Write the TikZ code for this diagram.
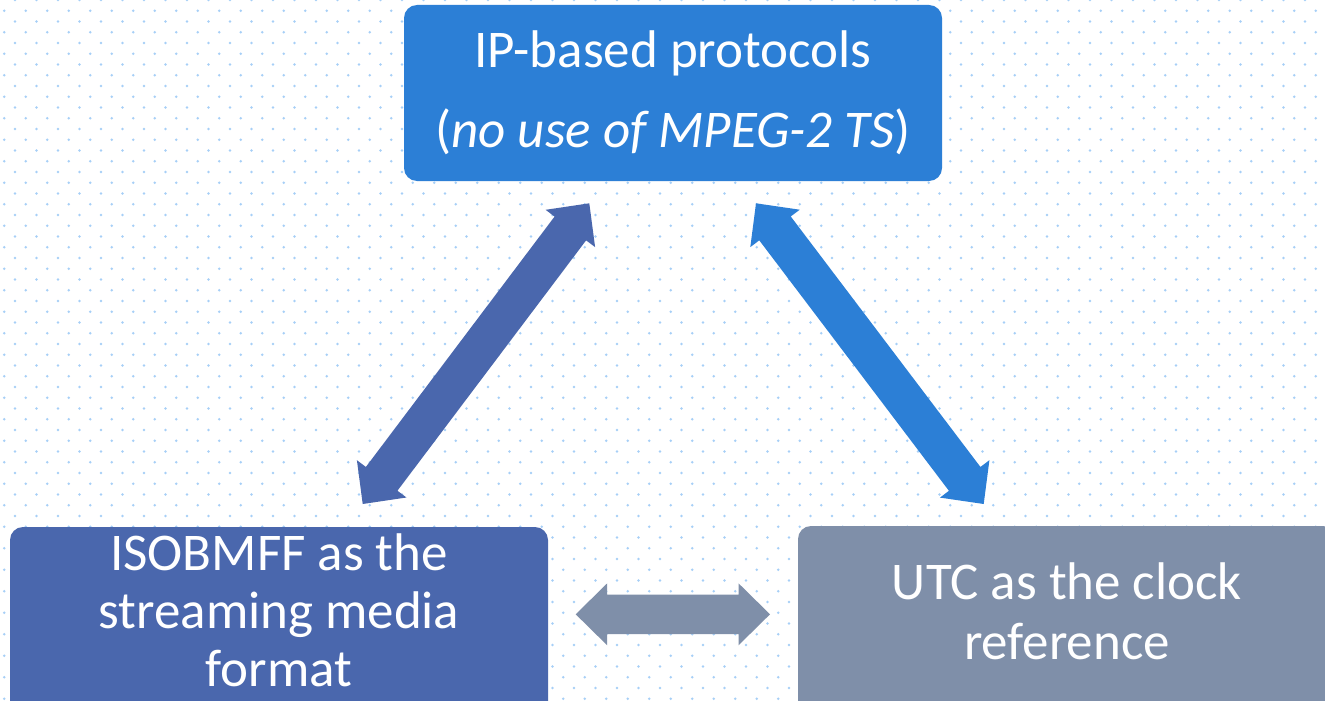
\documentclass[tikz,border=0pt]{standalone}
\usepackage{fontspec}
\setmainfont{Carlito}
\usetikzlibrary{calc}

\definecolor{ipblue}{RGB}{44,127,214}
\definecolor{isoblue}{RGB}{74,103,173}
\definecolor{utcgrey}{RGB}{127,143,169}
\definecolor{dotblue}{RGB}{166,207,247}

% block arrow with a head at both ends: #1 -> #2, filled with #3
\def\arrhead{31.5pt}   % head length
\def\arrwing{31pt}     % half head width
\def\arrshaft{19.75pt} % half shaft width
\newcommand\twoway[3]{%
  \fill[#3] (#1)
    -- ($(#1)!\arrhead!(#2)!\arrwing!90:(#2)$)
    -- ($(#1)!\arrhead!(#2)!\arrshaft!90:(#2)$)
    -- ($(#2)!\arrhead!(#1)!\arrshaft!-90:(#1)$)
    -- ($(#2)!\arrhead!(#1)!\arrwing!-90:(#1)$)
    -- (#2)
    -- ($(#2)!\arrhead!(#1)!\arrwing!90:(#1)$)
    -- ($(#2)!\arrhead!(#1)!\arrshaft!90:(#1)$)
    -- ($(#1)!\arrhead!(#2)!\arrshaft!-90:(#2)$)
    -- ($(#1)!\arrhead!(#2)!\arrwing!-90:(#2)$)
    -- cycle;}

\begin{document}
\begin{tikzpicture}[x=1pt,y=-1pt,
  card/.style={rounded corners=13pt, text=white, align=center,
    inner sep=0pt, minimum width=538pt,
    font=\fontsize{53}{59}\selectfont},
  cardtext/.style={text=white, align=center, inner sep=0pt,
    text height=0pt, text depth=0pt},
  dot/.style={fill=dotblue},
]
\useasboundingbox (0,0) rectangle (1325,701);
\clip (0,0) rectangle (1325,701);
\fill[white] (0,0) rectangle (1325,701);

% staggered dot grid
\foreach \r [evaluate=\r as \xo using {4.3+10.75*(1-mod(\r,2))}] in {0,...,65}{
  \foreach \c in {0,...,61}{
    \fill[dot] ({\xo+21.5*\c},{10.75*\r}) circle (1.35pt);
  }
}

% the three blocks
\node[card, fill=ipblue, minimum height=176pt] (ip) at (673,93)
  {IP-based protocols\\[21pt](\textit{no use of MPEG-2 TS})};
\node[card, fill=isoblue, minimum height=194pt] (iso) at (279,624) {};
\node[card, fill=utcgrey, minimum height=194pt] (utc) at (1067,623) {};

% block texts, placed by the baseline of their last line
\node[cardtext, font=\fontsize{53}{58}\selectfont] (isoText) at (279,686.7)
  {ISOBMFF as the\\streaming media\\format};
\node[cardtext, font=\fontsize{53}{59.5}\selectfont] (utcText) at (1067,659)
  {UTC as the clock\\reference};

% ends of the double arrows
\coordinate (isoTip) at (362.7,504);
\coordinate (ipTipL) at (589.3,203.3);
\coordinate (ipTipR) at (756,203.3);
\coordinate (utcTip) at (983.7,504);
\coordinate (isoSide) at (575.7,614.3);
\coordinate (utcSide) at (770,614.3);

\twoway{isoTip}{ipTipL}{isoblue}
\twoway{ipTipR}{utcTip}{ipblue}
\twoway{isoSide}{utcSide}{utcgrey}
\end{tikzpicture}
\end{document}
